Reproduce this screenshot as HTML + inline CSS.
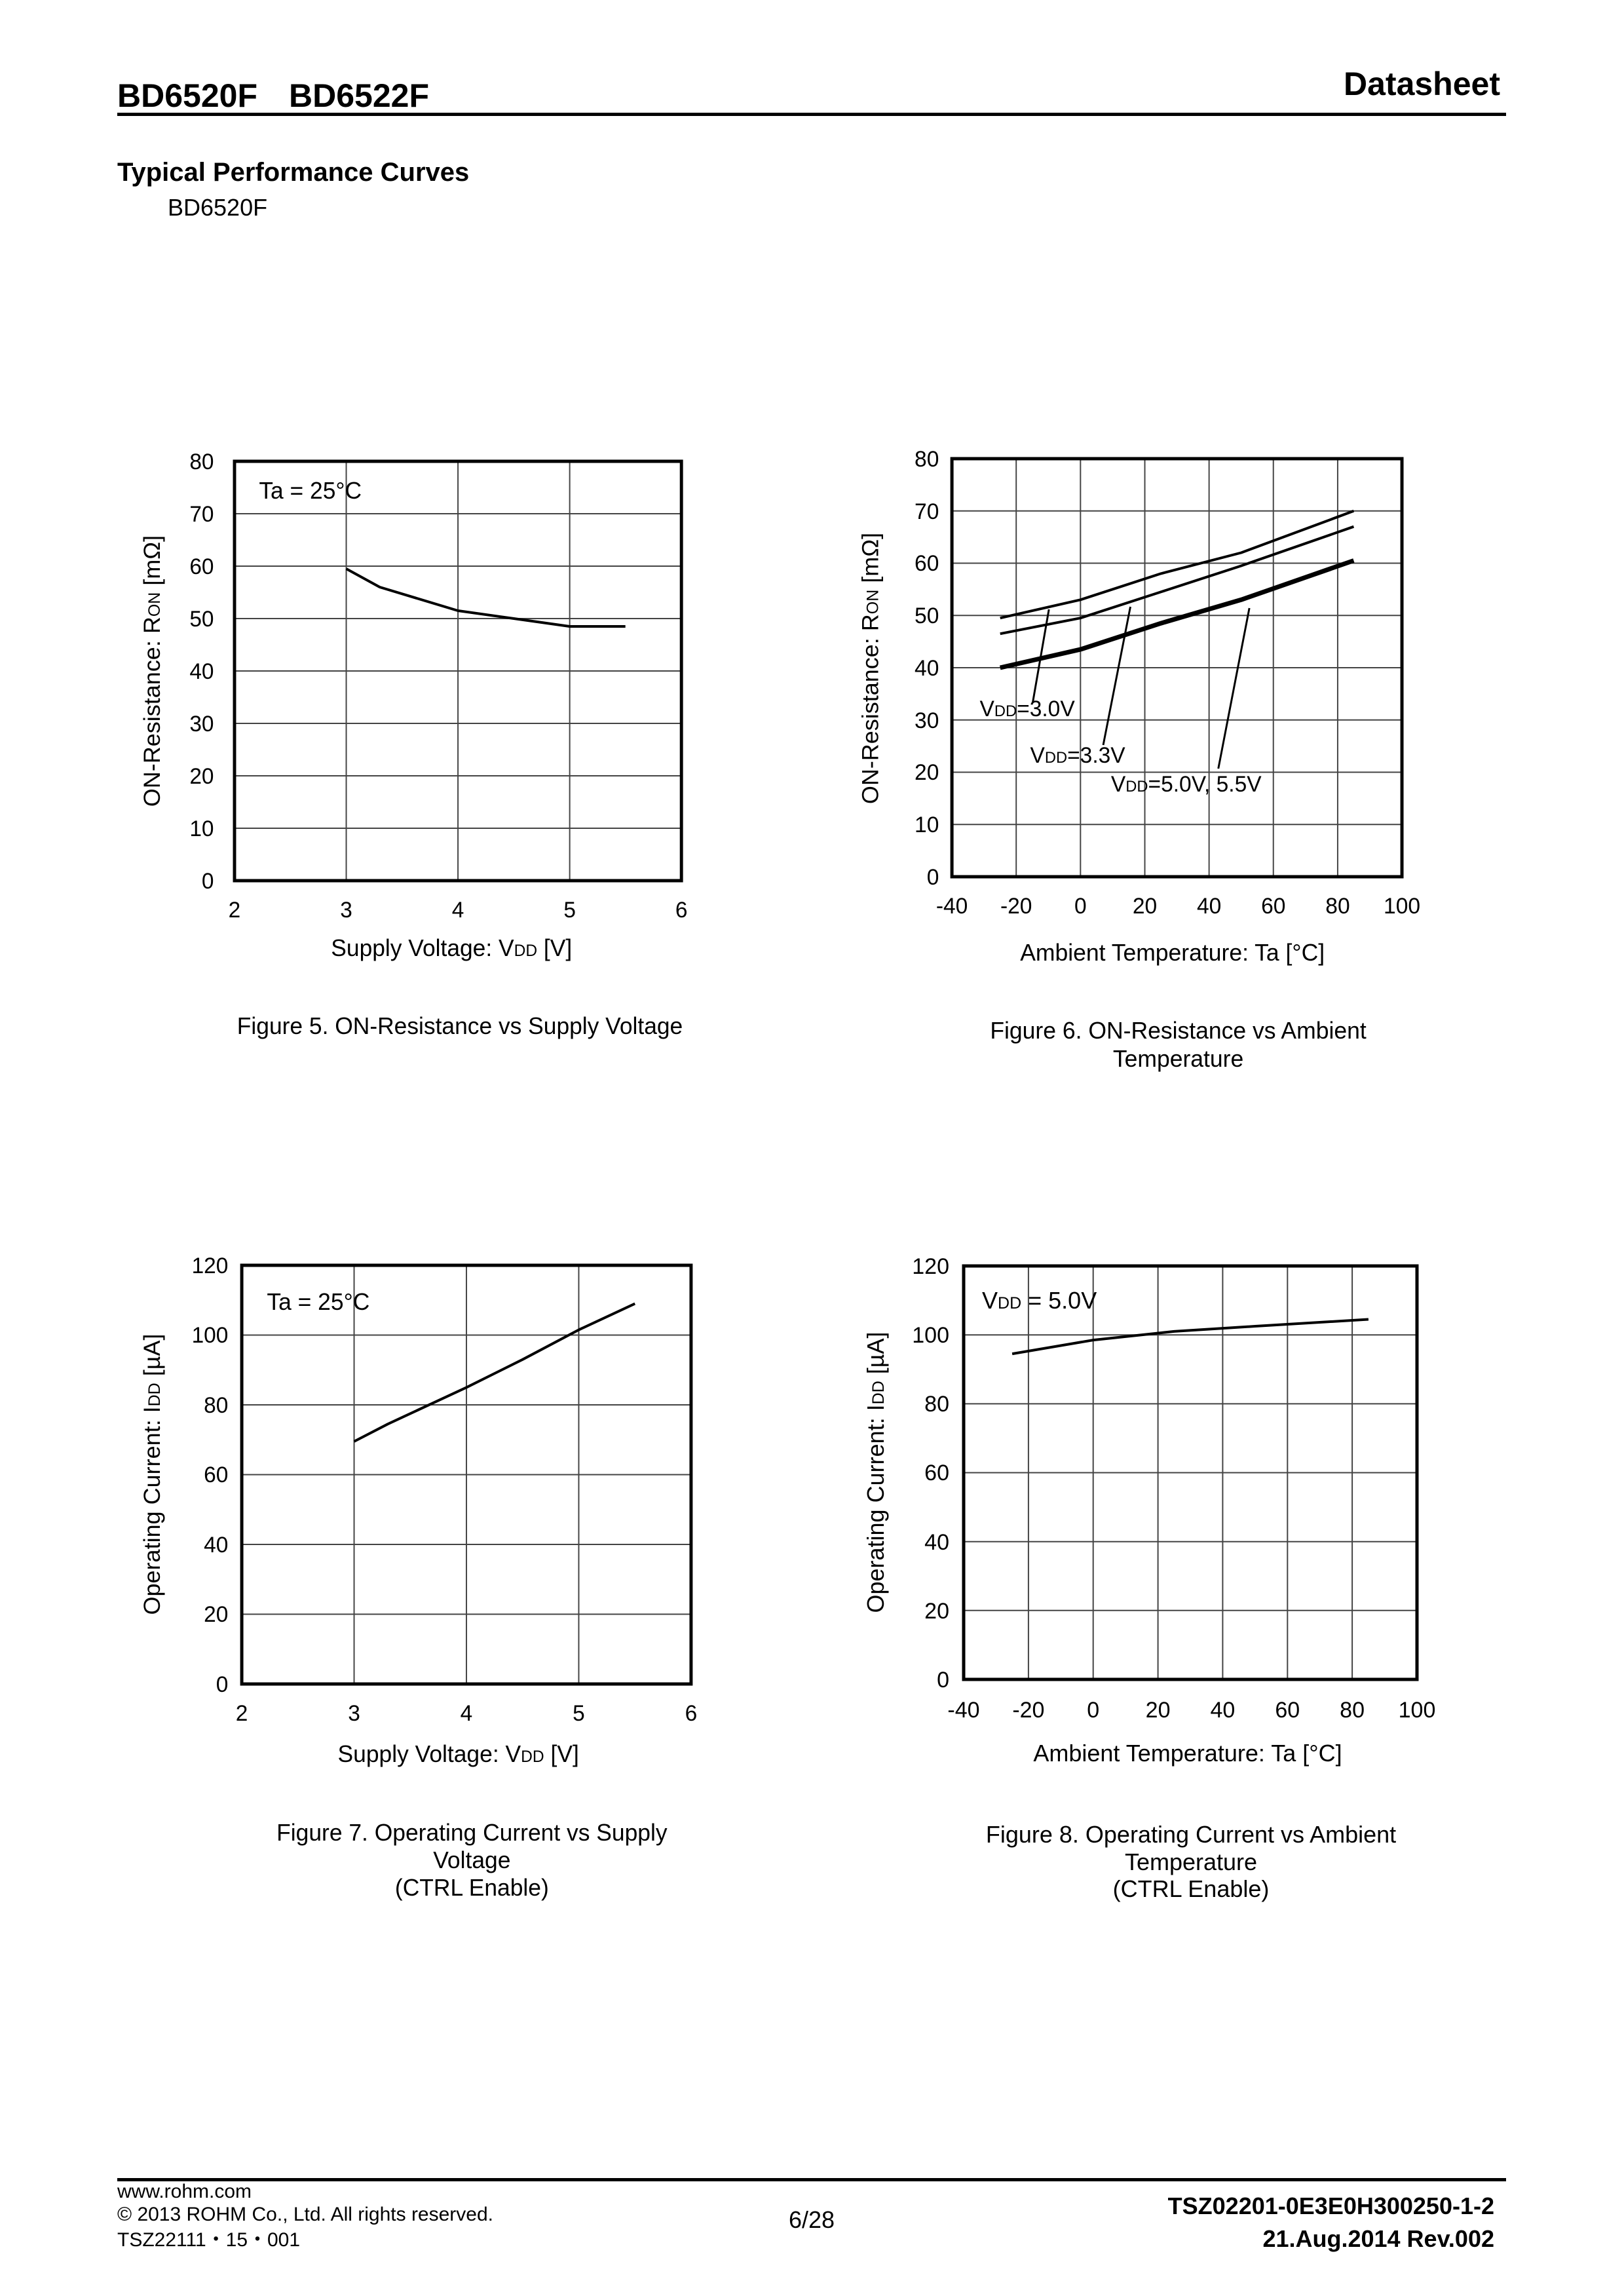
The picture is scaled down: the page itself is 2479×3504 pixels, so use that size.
<!DOCTYPE html>
<html><head><meta charset="utf-8"><style>
html,body{margin:0;padding:0;background:#fff;}
svg{display:block;}
text{font-family:"Liberation Sans",Arial,sans-serif;fill:#000;}
.t{font-size:34px;}
.a{font-size:36px;}
.g{stroke:#444;stroke-width:2;fill:none;}
.b{stroke:#000;stroke-width:5;fill:none;}
.c{stroke:#000;stroke-width:4;fill:none;stroke-linejoin:round;}
</style></head><body>
<svg width="2479" height="3504" viewBox="0 0 2479 3504" xmlns="http://www.w3.org/2000/svg">
<rect width="2479" height="3504" fill="#fff"/>
<!-- header -->
<text x="179" y="163" font-size="50" font-weight="bold">BD6520F<tspan dx="48">BD6522F</tspan></text>
<text x="2290" y="145" font-size="50" font-weight="bold" text-anchor="end">Datasheet</text>
<rect x="179" y="172" width="2120" height="5" fill="#000"/>
<text x="179" y="276" font-size="40" font-weight="bold">Typical Performance Curves</text>
<text x="256" y="329" font-size="36">BD6520F</text>

<!-- Chart 1 -->
<g transform="translate(4.1,0) scale(0.983,1)">
<path class="g" d="M533.5 704V1344M707 704V1344M880.5 704V1344M360 1264H1054M360 1184H1054M360 1104H1054M360 1024H1054M360 944H1054M360 864H1054M360 784H1054"/>
<rect class="b" x="360" y="704" width="694" height="640"/>
<polyline class="c" points="533.5,868 585.5,896 707,932 793.75,944 880.5,956 967,956"/>
<text x="398" y="761" class="a">Ta = 25°C</text>
<g class="t" text-anchor="end">
<text x="328" y="1356">0</text><text x="328" y="1276">10</text><text x="328" y="1196">20</text><text x="328" y="1116">30</text><text x="328" y="1036">40</text><text x="328" y="956">50</text><text x="328" y="876">60</text><text x="328" y="796">70</text><text x="328" y="716">80</text>
</g>
<g class="t" text-anchor="middle">
<text x="360" y="1400">2</text><text x="533.5" y="1400">3</text><text x="707" y="1400">4</text><text x="880.5" y="1400">5</text><text x="1054" y="1400">6</text>
</g>
<text x="697" y="1459" class="a" text-anchor="middle">Supply Voltage: V<tspan font-size="25">DD</tspan> [V]</text>
<text transform="translate(244,1024) rotate(-90)" class="a" text-anchor="middle">ON-Resistance: R<tspan font-size="25">ON</tspan> [mΩ]</text>
<text x="710" y="1578" class="a" text-anchor="middle">Figure 5. ON-Resistance vs Supply Voltage</text>
</g>

<!-- Chart 2 -->
<g transform="translate(18,0) scale(0.987,1)">
<path class="g" d="M1553.4 700V1338M1652.8 700V1338M1752.3 700V1338M1851.7 700V1338M1951.1 700V1338M2050.6 700V1338M1454 1258.2H2150M1454 1178.5H2150M1454 1098.8H2150M1454 1019H2150M1454 939.3H2150M1454 859.5H2150M1454 779.8H2150"/>
<rect class="b" x="1454" y="700" width="696" height="638"/>
<polyline class="c" points="1528.6,943.2 1652.8,915.3 1777.1,875.4 1901.4,843.5 2075.4,779.8"/>
<polyline class="c" points="1528.6,967.2 1652.8,943.2 1777.1,903.4 1901.4,863.5 2075.4,803.7"/>
<polyline class="c" style="stroke-width:7" points="1528.6,1019 1652.8,991.1 1777.1,951.2 1901.4,915.3 2075.4,855.5"/>
<path stroke="#000" stroke-width="3" fill="none" d="M1604 930L1579 1072M1730 926L1688 1137M1914 928L1866 1173"/>
<text x="1497" y="1093" class="t">V<tspan font-size="24">DD</tspan>=3.0V</text>
<text x="1575" y="1164" class="t">V<tspan font-size="24">DD</tspan>=3.3V</text>
<text x="1700" y="1208" class="t">V<tspan font-size="24">DD</tspan>=5.0V, 5.5V</text>
<g class="t" text-anchor="end">
<text x="1434" y="1350">0</text><text x="1434" y="1270">10</text><text x="1434" y="1190">20</text><text x="1434" y="1111">30</text><text x="1434" y="1031">40</text><text x="1434" y="951">50</text><text x="1434" y="871">60</text><text x="1434" y="792">70</text><text x="1434" y="712">80</text>
</g>
<g class="t" text-anchor="middle">
<text x="1454" y="1394">-40</text><text x="1553.4" y="1394">-20</text><text x="1652.8" y="1394">0</text><text x="1752.3" y="1394">20</text><text x="1851.7" y="1394">40</text><text x="1951.1" y="1394">60</text><text x="2050.6" y="1394">80</text><text x="2150" y="1394">100</text>
</g>
<text x="1795" y="1466" class="a" text-anchor="middle">Ambient Temperature: Ta [°C]</text>
<text transform="translate(1340,1020) rotate(-90)" class="a" text-anchor="middle">ON-Resistance: R<tspan font-size="25">ON</tspan> [mΩ]</text>
<text x="1804" y="1585" class="a" text-anchor="middle">Figure 6. ON-Resistance vs Ambient</text>
<text x="1804" y="1628" class="a" text-anchor="middle">Temperature</text>
</g>

<!-- Chart 3 -->
<g transform="translate(4,0) scale(0.984,1)">
<path class="g" d="M545.25 1931V2570M719.5 1931V2570M893.75 1931V2570M371 2463.5H1068M371 2357H1068M371 2250.5H1068M371 2144H1068M371 2037.5H1068"/>
<rect class="b" x="371" y="1931" width="697" height="639"/>
<polyline class="c" points="545.25,2199.9 597.5,2173.3 719.5,2117.4 806.6,2074.8 893.75,2029.5 980.9,1989.6"/>
<text x="410" y="1999" class="a">Ta = 25°C</text>
<g class="t" text-anchor="end">
<text x="350" y="2582">0</text><text x="350" y="2475">20</text><text x="350" y="2369">40</text><text x="350" y="2262">60</text><text x="350" y="2156">80</text><text x="350" y="2049">100</text><text x="350" y="1943">120</text>
</g>
<g class="t" text-anchor="middle">
<text x="371" y="2626">2</text><text x="545.25" y="2626">3</text><text x="719.5" y="2626">4</text><text x="893.75" y="2626">5</text><text x="1068" y="2626">6</text>
</g>
<text x="707" y="2689" class="a" text-anchor="middle">Supply Voltage: V<tspan font-size="25">DD</tspan> [V]</text>
<text transform="translate(244,2250) rotate(-90)" class="a" text-anchor="middle">Operating Current: I<tspan font-size="25">DD</tspan> [µA]</text>
<g class="a" text-anchor="middle">
<text x="728" y="2809">Figure 7. Operating Current vs Supply</text>
<text x="728" y="2851">Voltage</text>
<text x="728" y="2893">(CTRL Enable)</text>
</g>
</g>

<!-- Chart 4 -->
<g transform="translate(-7,0)">
<path class="g" d="M1576.9 1932V2563M1675.7 1932V2563M1774.6 1932V2563M1873.4 1932V2563M1972.3 1932V2563M2071.1 1932V2563M1478 2457.8H2170M1478 2352.7H2170M1478 2247.5H2170M1478 2142.4H2170M1478 2037.2H2170"/>
<rect class="b" x="1478" y="1932" width="692" height="631"/>
<polyline class="c" points="1552.1,2066.1 1675.7,2045.1 1799.3,2031.9 1922.9,2024 2095.9,2013.5"/>
<text x="1506" y="1997" class="a">V<tspan font-size="25">DD</tspan> = 5.0V</text>
<g class="t" text-anchor="end">
<text x="1456" y="2575">0</text><text x="1456" y="2470">20</text><text x="1456" y="2365">40</text><text x="1456" y="2259">60</text><text x="1456" y="2154">80</text><text x="1456" y="2049">100</text><text x="1456" y="1944">120</text>
</g>
<g class="t" text-anchor="middle">
<text x="1478" y="2621">-40</text><text x="1576.9" y="2621">-20</text><text x="1675.7" y="2621">0</text><text x="1774.6" y="2621">20</text><text x="1873.4" y="2621">40</text><text x="1972.3" y="2621">60</text><text x="2071.1" y="2621">80</text><text x="2170" y="2621">100</text>
</g>
<text x="1820" y="2688" class="a" text-anchor="middle">Ambient Temperature: Ta [°C]</text>
<text transform="translate(1356,2247) rotate(-90)" class="a" text-anchor="middle">Operating Current: I<tspan font-size="25">DD</tspan> [µA]</text>
<g class="a" text-anchor="middle">
<text x="1825" y="2812">Figure 8. Operating Current vs Ambient</text>
<text x="1825" y="2854">Temperature</text>
<text x="1825" y="2895">(CTRL Enable)</text>
</g>
</g>

<!-- footer -->
<rect x="179" y="3324" width="2120" height="5" fill="#000"/>
<text x="179" y="3354" font-size="30">www.rohm.com</text>
<text x="179" y="3389" font-size="30">© 2013 ROHM Co., Ltd. All rights reserved.</text>
<text x="179" y="3428" font-size="30">TSZ22111・15・001</text>
<text x="1239" y="3400" font-size="36" text-anchor="middle">6/28</text>
<text x="2281" y="3379" font-size="36" font-weight="bold" text-anchor="end">TSZ02201-0E3E0H300250-1-2</text>
<text x="2281" y="3429" font-size="36" font-weight="bold" text-anchor="end">21.Aug.2014 Rev.002</text>
</svg>
</body></html>
